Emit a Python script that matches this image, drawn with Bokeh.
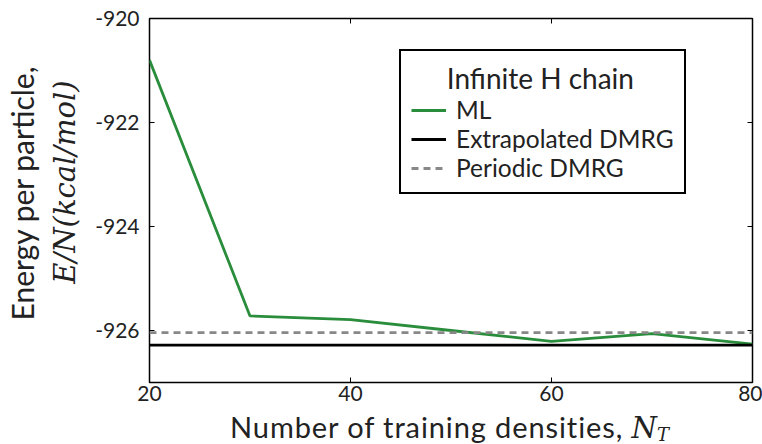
from bokeh.plotting import figure
from bokeh.layouts import column
from bokeh.models import (LinearAxis, FixedTicker, Legend, LegendItem, Range1d,
                          PrintfTickFormatter, Div)
from bokeh.embed import file_html
from bokeh.resources import INLINE

# Training set sizes and the ML energy per particle (kcal/mol)
n_train = [20, 30, 40, 50, 60, 70, 80]
ml_energy = [-920.80, -925.72, -925.79, -926.00, -926.21, -926.06, -926.26]

# Reference DMRG energies (kcal/mol)
extrapolated_dmrg = -926.28
periodic_dmrg = -926.04

x_ticks = [20, 40, 60, 80]
y_ticks = [-926, -924, -922, -920]

SANS = "Lato"
SERIF = "DejaVu Serif"
INK = "#222222"
NBSP = "\u00a0"

p = figure(width=762, height=414, output_backend="svg", toolbar_location=None,
           x_range=Range1d(20, 80), y_range=Range1d(-927, -920),
           min_border_left=147, min_border_right=10, min_border_top=18,
           min_border_bottom=32)
p.grid.visible = False
p.background_fill_color = "white"
p.border_fill_color = "white"
p.outline_line_color = "black"
p.outline_line_width = 1.5
p.outline_line_alpha = 1.0

x_ends = [n_train[0], n_train[-1]]
r_ml = p.line(n_train, ml_energy, line_color="#2a8d3c", line_width=2.8)
r_ex = p.line(x_ends, [extrapolated_dmrg] * 2, line_color="black", line_width=2.8)
r_pe = p.line(x_ends, [periodic_dmrg] * 2, line_color="#888888", line_width=2.8,
              line_dash="7 5")


def style_axis(ax, ticks, show_labels, standoff=0):
    ax.ticker = FixedTicker(ticks=ticks)
    ax.formatter = PrintfTickFormatter(format="%d")
    ax.axis_line_color = None
    ax.major_tick_in = 5
    ax.major_tick_out = 0
    ax.major_tick_line_color = "black"
    ax.major_tick_line_width = 1
    ax.minor_tick_line_color = None
    ax.major_label_text_font = SANS
    if show_labels:
        ax.major_label_text_font_size = "21px"
        ax.major_label_text_color = INK
        ax.major_label_standoff = standoff
    else:
        # mirrored tick marks only
        ax.major_label_text_font_size = "1px"
        ax.major_label_text_color = None
        ax.major_label_standoff = 0


style_axis(p.xaxis[0], x_ticks, True, standoff=3)
style_axis(p.yaxis[0], y_ticks, True, standoff=10)
top_axis = LinearAxis()
style_axis(top_axis, x_ticks, False)
p.add_layout(top_axis, "above")
right_axis = LinearAxis()
style_axis(right_axis, y_ticks, False)
p.add_layout(right_axis, "right")

# Two-line y title: units on the inner axis, description on an outer bare axis
yax = p.yaxis[0]
yax.axis_label = NBSP * 4 + "E/N(kcal/mol)"
yax.axis_label_text_font = SERIF
yax.axis_label_text_font_style = "italic"
yax.axis_label_text_font_size = "29px"
yax.axis_label_text_color = INK
yax.axis_label_standoff = 10

outer_y = LinearAxis(ticker=FixedTicker(ticks=[]))
outer_y.axis_line_color = None
outer_y.major_tick_line_color = None
outer_y.minor_tick_line_color = None
outer_y.major_label_text_font_size = "1px"
outer_y.major_label_text_color = None
outer_y.major_label_standoff = 0
outer_y.axis_label = NBSP * 2 + "Energy per particle,"
outer_y.axis_label_text_font = SANS
outer_y.axis_label_text_font_style = "normal"
outer_y.axis_label_text_font_size = "30px"
outer_y.axis_label_text_color = INK
outer_y.axis_label_standoff = 6
p.add_layout(outer_y, "left")

legend = Legend(items=[LegendItem(label="ML", renderers=[r_ml]),
                       LegendItem(label="Extrapolated DMRG", renderers=[r_ex]),
                       LegendItem(label="Periodic DMRG", renderers=[r_pe])],
                title=NBSP * 5 + "Infinite H chain", location=(250, 188))
legend.title_text_font = SANS
legend.title_text_font_size = "28px"
legend.title_text_font_style = "normal"
legend.title_text_color = INK
legend.title_standoff = 0
legend.label_text_font = SANS
legend.label_text_font_size = "24.5px"
legend.label_text_color = INK
legend.border_line_color = "black"
legend.border_line_alpha = 1.0
legend.border_line_width = 2
legend.padding = 10
legend.spacing = -2
legend.margin = 0
legend.glyph_width = 35
legend.glyph_height = 24
legend.label_height = 24
legend.label_standoff = 10
legend.background_fill_alpha = 1
p.add_layout(legend, "center")

# x title with the math symbol set in italic serif
x_title = Div(
    text=('<div style="font-family:Lato;font-size:29px;line-height:25px;'
          'letter-spacing:0.9px;text-align:center;color:#222222;'
          'white-space:nowrap;width:605px">'
          'Number of training densities, '
          '<span style="font-family:\'DejaVu Serif\';font-style:italic;'
          'letter-spacing:0">N</span>'
          '<span style="font-family:\'DejaVu Serif\';font-style:italic;font-size:18px;'
          'letter-spacing:0;position:relative;top:3px">T</span></div>'),
    width=605, height=30, margin=(0, 0, 0, 147))

layout = column(p, x_title, spacing=0)

open("out.html", "w").write(file_html(layout, INLINE))
